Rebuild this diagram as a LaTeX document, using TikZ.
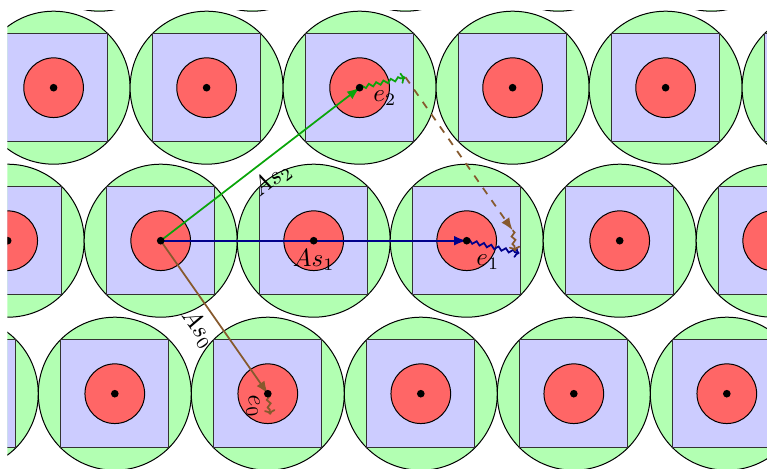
\documentclass[tikz,border=0pt]{standalone}
\usetikzlibrary{arrows.meta,decorations.pathmorphing}
\definecolor{asgreen}{RGB}{10,165,10}
\definecolor{asnavy}{RGB}{0,0,140}
\definecolor{asbrown}{RGB}{134,89,45}
\begin{document}
\begin{tikzpicture}[x=61.2pt,y=61.2pt,
  cellouter/.style={draw=black, fill=green!30},
  cellsquare/.style={draw=black!80, fill=blue!20},
  cellcore/.style={draw=black, fill=red!60},
  celldot/.style={fill=black},
  vecarrow/.style={line width=0.7pt, -{Latex[length=5pt,width=3.8pt]}},
  wavearrow/.style={line width=0.7pt, -{To[length=2pt,width=4.5pt]}, decorate,
    decoration={snake, amplitude=0.7pt, segment length=3pt, post length=1.8pt}},
  lbl/.style={text=black}
]
\useasboundingbox (-1.0503,-1.4856) rectangle (3.9627,1.5732);
\begin{scope}
  \clip (-1.0013,-1.6) rectangle (4.1,1.5046);
  \foreach \j in {-1,0,1,2} {
    \foreach \i in {-3,...,5} {
      \pgfmathsetmacro\cx{\i+0.3*(\j)}
      \draw[cellouter] (\cx,\j) circle[radius=0.5];
      \draw[cellsquare] ({\cx-0.35355},{\j-0.35355}) rectangle ({\cx+0.35355},{\j+0.35355});
      \draw[cellcore] (\cx,\j) circle[radius=0.195];
    }
  }
\end{scope}
% lattice points used by the vectors
\coordinate (O) at (0,0);
\coordinate (P1) at (2,0);
\coordinate (P2) at (1.3,1);
\coordinate (P0) at (0.7,-1);
\coordinate (T2) at (1.6,1.068);
\coordinate (T1) at (2.345,-0.082);
\coordinate (T0) at (0.716,-1.137);
\coordinate (D) at (2.3,0.068);
\coordinate (DE) at (2.316,-0.069);
% main vectors
\draw[vecarrow, asnavy] (O) -- node[lbl, below] {$As_1$} (P1);
\draw[vecarrow, asgreen] (O) -- node[lbl, below, sloped] {$As_2$} (P2);
\draw[vecarrow, asbrown] (O) -- node[lbl, below, sloped] {$As_0$} (P0);
% small offsets
\draw[wavearrow, asgreen] (P2) -- (T2);
\path (P2) -- node[lbl, below, pos=0.55] {$e_2$} (T2);
\draw[wavearrow, asnavy] (P1) -- (T1);
\path (P1) -- node[lbl, below, pos=0.4] {$e_1$} (T1);
\draw[wavearrow, asbrown] (P0) -- (T0);
\path (P0) -- node[lbl, below, sloped] {$e_0$} (T0);
% composed path
\draw[line width=0.7pt, dashed, asbrown, -{Latex[length=5pt,width=3.8pt]}] (T2) -- (D);
\draw[wavearrow, asbrown] (D) -- (DE);
% dots on top
\begin{scope}
  \clip (-1.0013,-1.6) rectangle (4.1,1.5046);
  \foreach \j in {-1,0,1,2} {
    \foreach \i in {-3,...,5} {
      \pgfmathsetmacro\cx{\i+0.3*(\j)}
      \fill[celldot] (\cx,\j) circle[radius=0.025];
    }
  }
\end{scope}
\end{tikzpicture}
\end{document}
